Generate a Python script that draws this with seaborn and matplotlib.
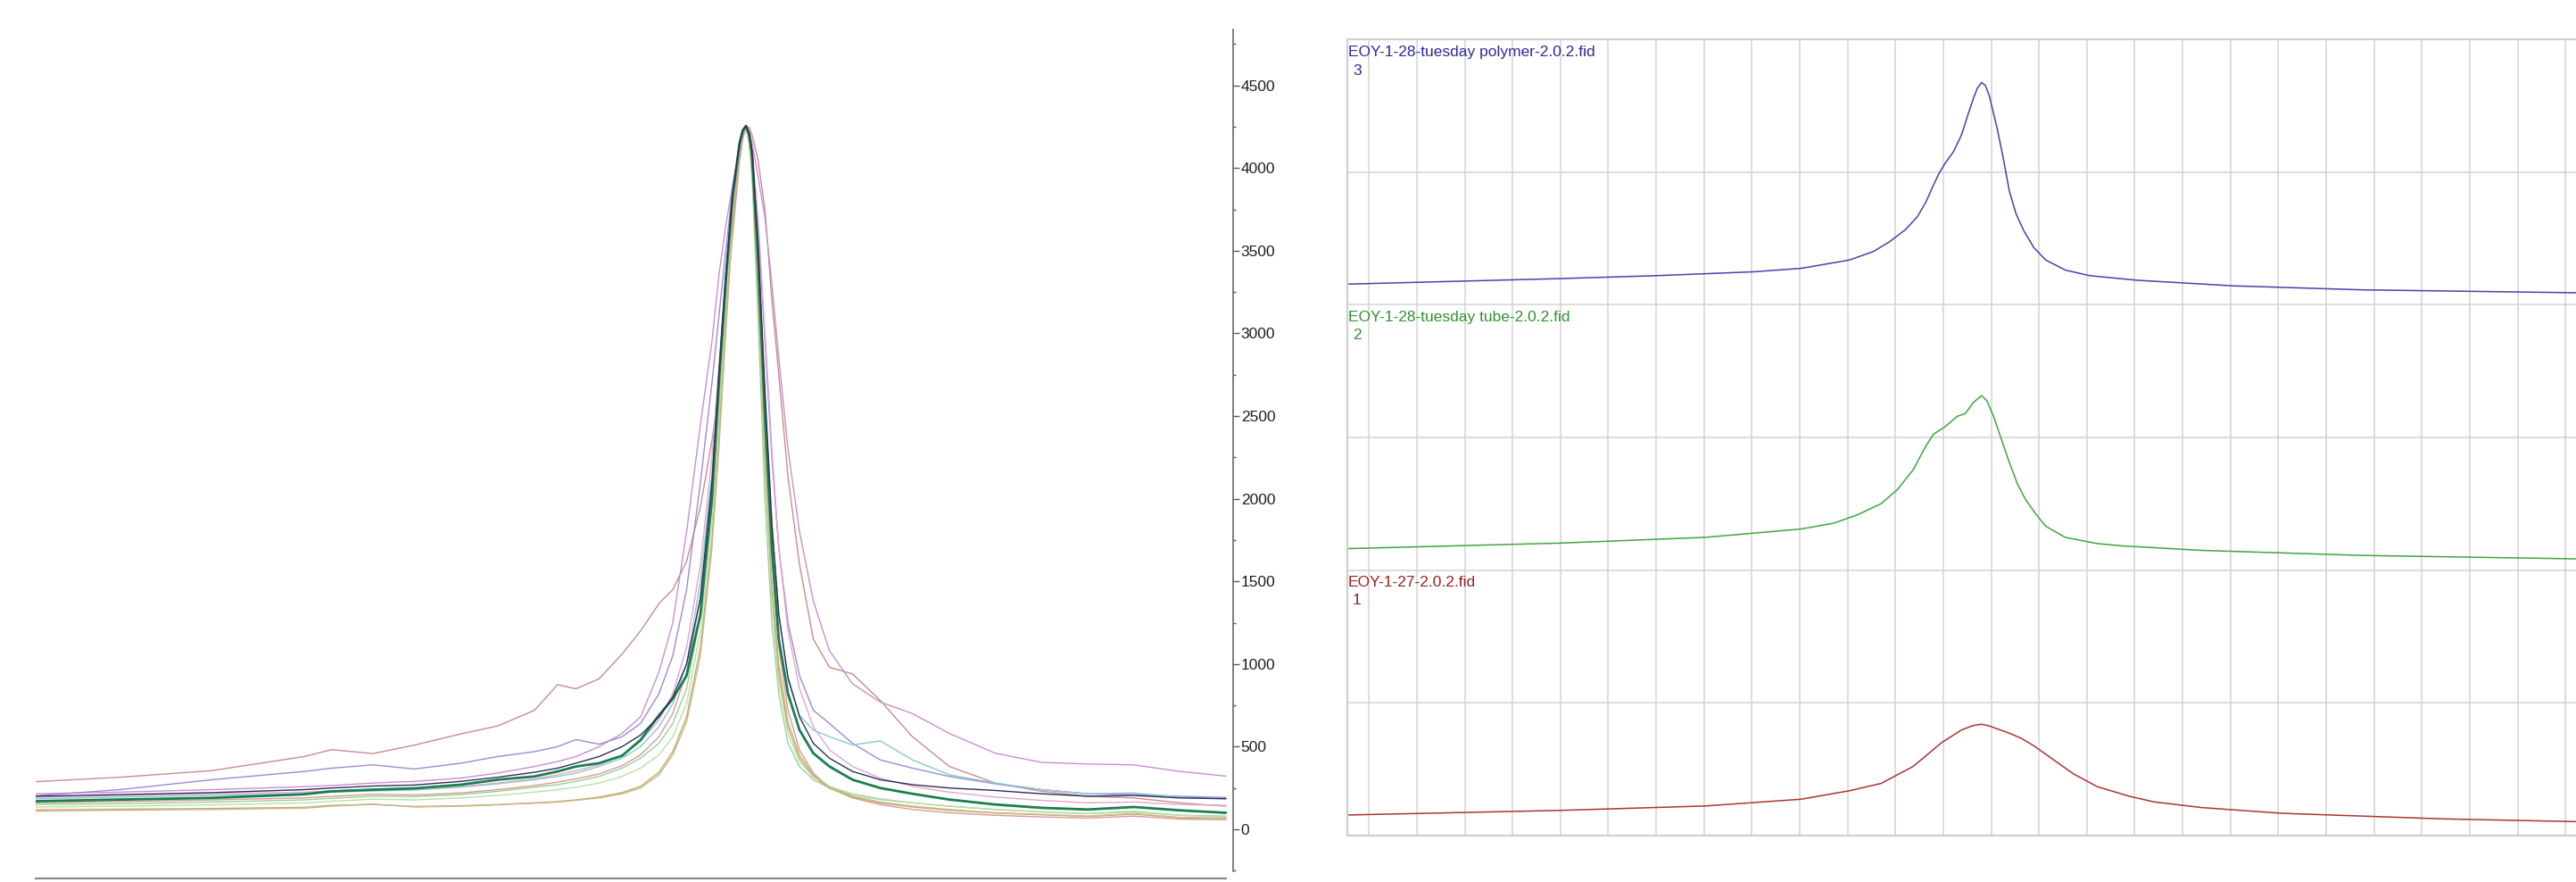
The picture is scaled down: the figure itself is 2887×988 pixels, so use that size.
import matplotlib
matplotlib.use("Agg")
import matplotlib.pyplot as plt
from matplotlib.ticker import MultipleLocator, FixedLocator
import pandas as pd
import seaborn as sns

# ---------------- overlaid spectra (left) ----------------
# sample positions along the shift axis, in tick units
shift = [-0.82, 1.0, 3.0, 5.0, 5.6, 6.5, 7.4, 8.4, 9.2, 10.0, 10.5,
         10.9, 11.4, 11.9, 12.3, 12.7, 13.0, 13.3, 13.6, 13.85, 14.0, 14.15,
         14.3, 14.45, 14.52, 14.59, 14.66, 14.72, 14.85, 15.0, 15.15, 15.3, 15.5, 15.75, 16.05,
         16.4, 16.9, 17.5, 18.2, 19.0, 20.0, 21.0, 22.0, 23.0, 24.0, 25.0]

rose = [288, 315, 355, 440, 482, 458, 510, 577, 625, 720, 875,
        850, 910, 1060, 1200, 1365, 1450, 1620, 1950, 2350, 2650, 3150,
        3600, 4050, 4180, 4250, 4245, 4200, 4050, 3750, 3200, 2750, 2130, 1600, 1150,
        980, 940, 780, 560, 380, 280, 230, 200, 190, 160, 140]
orchid = [215, 225, 240, 258, 265, 280, 290, 310, 340, 380, 410,
          440, 500, 580, 680, 950, 1250, 1800, 2450, 2950, 3350, 3650,
          3900, 4120, 4210, 4250, 4220, 4150, 3950, 3700, 3300, 2850, 2300, 1800, 1380,
          1080, 880, 770, 700, 580, 460, 405, 395, 390, 350, 322]
purple = [203, 240, 300, 350, 370, 390, 365, 400, 440, 470, 500,
          543, 515, 560, 640, 820, 1050, 1450, 2100, 2700, 3100, 3500,
          3880, 4150, 4225, 4250, 4200, 4100, 3650, 2950, 2250, 1700, 1250, 930, 720,
          640, 520, 420, 370, 320, 275, 240, 215, 210, 200, 193]
teal = [185, 195, 205, 215, 225, 232, 238, 255, 275, 300, 320,
        340, 380, 430, 500, 620, 760, 1000, 1500, 2150, 2700, 3300,
        3850, 4150, 4225, 4250, 4190, 4080, 3480, 2600, 1850, 1300, 900, 690, 600,
        560, 510, 535, 420, 330, 280, 240, 215, 220, 195, 185]
pink = [195, 205, 215, 225, 232, 240, 245, 260, 280, 305, 330,
        355, 390, 450, 530, 660, 820, 1100, 1600, 2250, 2800, 3350,
        3850, 4150, 4225, 4250, 4210, 4120, 3700, 3000, 2300, 1700, 1200, 850, 620,
        480, 380, 310, 260, 225, 195, 175, 160, 165, 150, 145]
salmon = [160, 168, 178, 190, 200, 212, 208, 220, 240, 265, 285,
          305, 335, 385, 450, 560, 700, 950, 1400, 2000, 2600, 3250,
          3820, 4140, 4220, 4250, 4180, 4050, 3400, 2450, 1650, 1100, 720, 480, 340,
          250, 190, 150, 120, 100, 85, 75, 68, 80, 62, 58]
light_green = [150, 155, 165, 178, 188, 200, 198, 210, 230, 255, 270,
               290, 320, 370, 430, 520, 640, 850, 1300, 1950, 2550, 3200,
               3800, 4150, 4225, 4250, 4150, 3950, 3100, 2000, 1250, 820, 520, 380, 300,
               250, 210, 180, 160, 140, 120, 105, 95, 105, 85, 80]
pale_green = [135, 140, 148, 160, 170, 182, 178, 190, 205, 225, 240,
              255, 280, 320, 370, 450, 560, 760, 1200, 1850, 2450, 3100,
              3750, 4130, 4220, 4250, 4160, 4000, 3250, 2200, 1400, 900, 580, 410, 320,
              260, 215, 185, 160, 140, 120, 105, 95, 110, 85, 75]
olive = [118, 122, 126, 133, 145, 150, 138, 142, 150, 160, 168,
         178, 195, 222, 260, 345, 470, 680, 1100, 1750, 2350, 3050,
         3680, 4110, 4215, 4250, 4150, 3980, 3250, 2250, 1450, 950, 620, 430, 320,
         250, 195, 160, 135, 115, 98, 88, 78, 92, 70, 65]
tan = [110, 115, 120, 128, 140, 153, 135, 140, 148, 158, 165,
       175, 190, 215, 250, 330, 450, 650, 1050, 1700, 2300, 3000,
       3650, 4100, 4210, 4250, 4160, 4000, 3300, 2300, 1500, 1000, 650, 450, 330,
       255, 200, 165, 140, 120, 100, 90, 80, 95, 72, 68]
navy = [200, 210, 222, 240, 250, 262, 268, 290, 315, 345, 370,
        400, 440, 500, 570, 680, 800, 1000, 1400, 2100, 2750, 3350,
        3850, 4160, 4230, 4255, 4210, 4100, 3550, 2650, 1850, 1300, 920, 680, 520,
        430, 350, 300, 270, 250, 235, 215, 200, 205, 190, 185]
green = [170, 180, 190, 212, 230, 240, 248, 270, 300, 320, 350,
         380, 400, 445, 540, 690, 790, 930, 1300, 2000, 2700, 3320,
         3830, 4150, 4228, 4255, 4200, 4080, 3450, 2500, 1700, 1150, 820, 600, 460,
         380, 300, 250, 215, 180, 150, 130, 120, 135, 115, 100]

overlay = {
    "rose": (rose, "#c98c8c", 1.0),
    "orchid": (orchid, "#c88fd0", 1.0),
    "purple": (purple, "#9c8ad6", 1.0),
    "teal": (teal, "#86cbcb", 1.0),
    "pink": (pink, "#e3a8c6", 1.0),
    "salmon": (salmon, "#dc9898", 1.0),
    "light_green": (light_green, "#95d195", 1.0),
    "pale_green": (pale_green, "#b9dfaa", 1.0),
    "olive": (olive, "#bfae66", 1.0),
    "tan": (tan, "#cdb78a", 1.0),
    "green": (green, "#197f4e", 2.0),
    "navy": (navy, "#2d2d5e", 1.0),
}

# ---------------- stacked spectra (right) ----------------
blue_x = [-0.46, 4.01, 6.02, 8.03, 9.03, 10.04, 10.54, 10.87, 11.21, 11.46,
          11.63, 11.79, 11.91, 12.04, 12.21, 12.38, 12.51, 12.63, 12.71, 12.80,
          12.88, 12.96, 13.13, 13.25, 13.38, 13.52, 13.68, 13.89, 14.14, 14.55,
          15.06, 16.06, 18.07, 20.75, 25.22]
blue_y = [4.155, 4.197, 4.219, 4.248, 4.274, 4.337, 4.401, 4.473, 4.566, 4.664,
          4.770, 4.897, 4.990, 5.067, 5.152, 5.279, 5.427, 5.555, 5.631, 5.674,
          5.652, 5.576, 5.321, 5.109, 4.855, 4.685, 4.558, 4.431, 4.337, 4.261,
          4.219, 4.184, 4.142, 4.112, 4.090]
tube_x = [-0.46, 4.01, 7.02, 9.03, 9.70, 10.20, 10.70, 11.04, 11.37, 11.62,
          11.79, 12.04, 12.29, 12.46, 12.63, 12.80, 12.91, 13.05, 13.21, 13.38,
          13.55, 13.72, 13.92, 14.14, 14.55, 15.22, 15.73, 17.40, 20.75, 25.22]
tube_y = [2.162, 2.204, 2.247, 2.310, 2.353, 2.416, 2.501, 2.607, 2.756, 2.925,
          3.023, 3.082, 3.159, 3.180, 3.264, 3.315, 3.277, 3.159, 2.989, 2.811,
          2.649, 2.531, 2.429, 2.331, 2.247, 2.200, 2.183, 2.149, 2.111, 2.085]
ref_x = [-0.46, 4.01, 7.02, 9.03, 10.04, 10.70, 11.37, 11.96, 12.38, 12.63,
         12.80, 12.96, 13.13, 13.38, 13.63, 13.89, 14.30, 14.72, 15.22, 15.89,
         16.40, 17.40, 19.07, 22.42, 25.22]
ref_y = [0.155, 0.190, 0.223, 0.274, 0.338, 0.393, 0.521, 0.699, 0.796, 0.830,
         0.839, 0.826, 0.804, 0.771, 0.733, 0.677, 0.572, 0.465, 0.368, 0.296,
         0.254, 0.211, 0.168, 0.126, 0.105]

stack_names = ["EOY-1-28-tuesday polymer-2.0.2.fid",
               "EOY-1-28-tuesday tube-2.0.2.fid",
               "EOY-1-27-2.0.2.fid"]
stack_numbers = ["3", "2", "1"]
stack_line_colors = ["#4444a8", "#3fa63f", "#a83535"]
stack_text_colors = ["#2b2b9a", "#2f922f", "#9a2020"]

sns.set_style("white")
plt.rcParams["font.family"] = ["Liberation Sans", "DejaVu Sans"]

W, H = 2887, 988
fig = plt.figure(figsize=(W / 100, H / 100), dpi=100)
fig.patch.set_facecolor("white")

# ---- left: overlay ----
ax1 = fig.add_axes([40 / W, 4 / H, (1381.7 - 40) / W, (984 - 31) / H])
frames = []
for name, (vals, col, lw) in overlay.items():
    frames.append(pd.DataFrame({"shift": shift, "intensity": vals, "trace": name}))
df = pd.concat(frames, ignore_index=True)
for name, (vals, col, lw) in overlay.items():
    sns.lineplot(data=df[df["trace"] == name], x="shift", y="intensity",
                 color=col, linewidth=lw, estimator=None, sort=False,
                 legend=False, ax=ax1)

ax1.set_xlim(-0.82, 25.15)
ax1.set_ylim(-297, 4849)
ax1.set_xlabel("")
ax1.set_ylabel("")
for s in ("left", "top"):
    ax1.spines[s].set_visible(False)
ax1.spines["right"].set_bounds(-254, 4840)
ax1.spines["right"].set_color("#5a5a5a")
ax1.spines["right"].set_linewidth(1.1)
ax1.spines["bottom"].set_bounds(-0.82, 25.0)
ax1.spines["bottom"].set_color("#8c8c8c")
ax1.spines["bottom"].set_linewidth(1.6)
ax1.yaxis.tick_right()
ax1.yaxis.set_major_locator(MultipleLocator(500))
ax1.yaxis.set_minor_locator(MultipleLocator(250))
ax1.tick_params(axis="y", which="major", direction="out", length=5, width=1,
                color="#5a5a5a", pad=1.5, labelsize=12.5, labelcolor="#1e1e1e")
ax1.tick_params(axis="y", which="minor", direction="out", length=2.5, width=1,
                color="#5a5a5a")
ax1.xaxis.set_major_locator(FixedLocator([1, 5, 9, 13, 17, 21, 25]))
ax1.xaxis.set_minor_locator(FixedLocator(list(range(0, 26))))
ax1.tick_params(axis="x", which="major", direction="out", length=8, width=1,
                color="#777777", labelbottom=False)
ax1.tick_params(axis="x", which="minor", direction="out", length=5, width=1,
                color="#777777")

# ---- right: stacked traces ----
ax2 = fig.add_axes([1510 / W, 52 / H, (W - 1510) / W, (936 - 44) / H])
for xs, ys, col in zip([blue_x, tube_x, ref_x], [blue_y, tube_y, ref_y],
                       stack_line_colors):
    sns.lineplot(x=xs, y=ys, color=col, linewidth=1.1, estimator=None,
                 sort=False, legend=False, ax=ax2)
ax2.set_xlim(-0.453, 25.22)
ax2.set_ylim(0, 6)
ax2.set_xticks(range(0, 26))
ax2.set_yticks(range(1, 6))
ax2.grid(True, color="#d3d3d3", linewidth=1.1)
ax2.tick_params(length=0, labelbottom=False, labelleft=False)
for s in ("top", "left", "bottom"):
    ax2.spines[s].set_visible(True)
    ax2.spines[s].set_color("#cfcfcf")
    ax2.spines[s].set_linewidth(1.6)
ax2.spines["right"].set_visible(False)

name_baselines = [63.3, 360.0, 656.7]
for name, num, col, yb in zip(stack_names, stack_numbers, stack_text_colors,
                              name_baselines):
    fig.text(1511 / W, 1 - yb / H, name, color=col, fontsize=12.5,
             va="baseline", ha="left")
    fig.text(1516 / W, 1 - (yb + 20.5) / H, num, color=col, fontsize=12.5,
             va="baseline", ha="left")

fig.savefig("out.png", dpi=100, facecolor="white")
